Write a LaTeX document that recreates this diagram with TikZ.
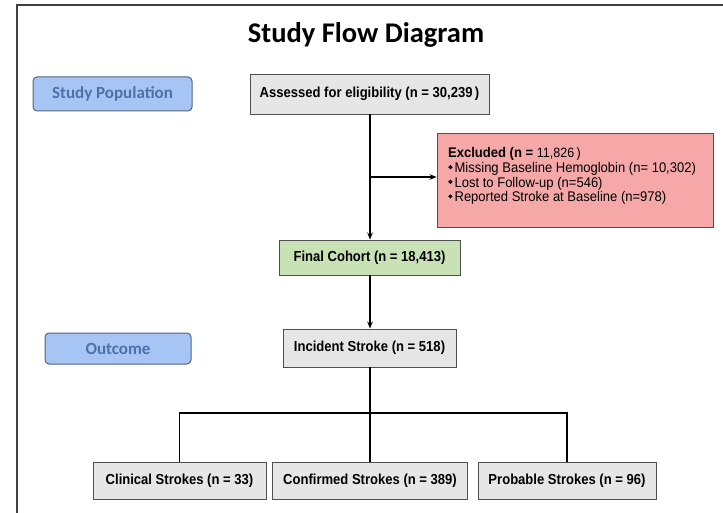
\documentclass[tikz,border=0pt]{standalone}
\usepackage{fontspec}
\setmainfont{Liberation Sans}
\newfontfamily\calfont{Carlito}
\newfontfamily\narrowfont[FakeStretch=0.9]{Liberation Sans}
\newfontfamily\semifont[FakeStretch=0.93]{Liberation Sans}
\usetikzlibrary{arrows.meta}
\definecolor{bluefill}{HTML}{A6C4F4}
\definecolor{bluetext}{HTML}{4E72A8}
\definecolor{blueline}{HTML}{56647E}
\definecolor{grayfill}{HTML}{E6E6E6}
\definecolor{greenfill}{HTML}{C8E2B6}
\definecolor{pinkfill}{HTML}{F6A8A8}
\definecolor{boxline}{HTML}{505050}
\newcommand{\dbul}{\raisebox{0.22em}{\tikz\fill (0,0)--(2.2pt,2.2pt)--(0,4.4pt)--(-2.2pt,2.2pt)--cycle;}\hspace{2pt}}
\tikzset{
  labelbox/.style={draw=blueline, line width=1pt, fill=bluefill, rounded corners=4pt, text=bluetext,
    font=\calfont\bfseries\fontsize{17}{20}\selectfont, inner sep=0pt},
  flowbox/.style={draw=boxline, line width=0.9pt, fill=grayfill, inner sep=0pt,
    font=\narrowfont\bfseries\fontsize{14.5}{16}\selectfont},
  conn/.style={line width=1.6pt, black},
  arr/.style={conn, -{Stealth[length=7pt,width=5.5pt]}}
}
\begin{document}
\begin{tikzpicture}[x=1pt, y=-1pt]
\useasboundingbox (0,0) rectangle (723,513);
\fill[white] (0,0) rectangle (723,513);
% frame
\draw[line width=1.6pt, black!75] (17,513) -- (17,5) -- (723,5);
% title
\node[anchor=base, font=\calfont\bfseries\fontsize{28.5}{32}\selectfont, inner sep=0pt] (title) at (366,43) {Study Flow Diagram};
% side labels
\node[labelbox, minimum width=159pt, minimum height=34pt] (sp) at (112.5,94) {Study Population};
\node[labelbox, minimum width=146pt, minimum height=31pt] (outc) at (118,348.5) {Outcome};
% flow boxes
\node[flowbox, minimum width=239pt, minimum height=40pt] (assess) at (369.5,94) {Assessed for eligibility (n = 30,239\,)};
\node[draw=boxline, line width=0.9pt, fill=pinkfill, minimum width=276pt, minimum height=94pt, inner sep=0pt] (excl) at (575,180) {};
\node[anchor=north west, inner sep=0pt, align=left, font=\semifont\fontsize{14}{14.6}\selectfont] (excltext) at (448,147.5)
  {\textbf{Excluded (n =} {\fontsize{13.5}{14.6}\selectfont 11,826\,)}\\
   \dbul Missing Baseline Hemoglobin (n= 10,302)\\
   \dbul Lost to Follow-up (n=546)\\
   \dbul Reported Stroke at Baseline (n=978)};
\node[flowbox, fill=greenfill, minimum width=181pt, minimum height=35pt] (final) at (369.5,257.5) {Final Cohort (n = 18,413)};
\node[flowbox, minimum width=173pt, minimum height=38pt] (incid) at (369.5,348) {Incident Stroke (n = 518)};
\node[flowbox, minimum width=173pt, minimum height=37pt] (clin) at (179.5,480.5) {Clinical Strokes (n = 33)};
\node[flowbox, minimum width=195pt, minimum height=37pt] (conf) at (370,480.5) {Confirmed Strokes (n = 389)};
\node[flowbox, minimum width=178pt, minimum height=37pt] (prob) at (567,480.5) {Probable Strokes (n = 96)};
% connectors
\coordinate (br) at (370,177);
\coordinate (bus) at (370,413);
\draw[arr] (assess.south -| br) -- (final.north -| br);
\draw[arr] (br) -- (br -| excl.west);
\draw[arr] (final.south -| br) -- (incid.north -| br);
\draw[conn] (incid.south -| bus) -- (conf.north -| bus);
\draw[conn] (clin.north) |- (bus) -| (prob.north);
\end{tikzpicture}
\end{document}
